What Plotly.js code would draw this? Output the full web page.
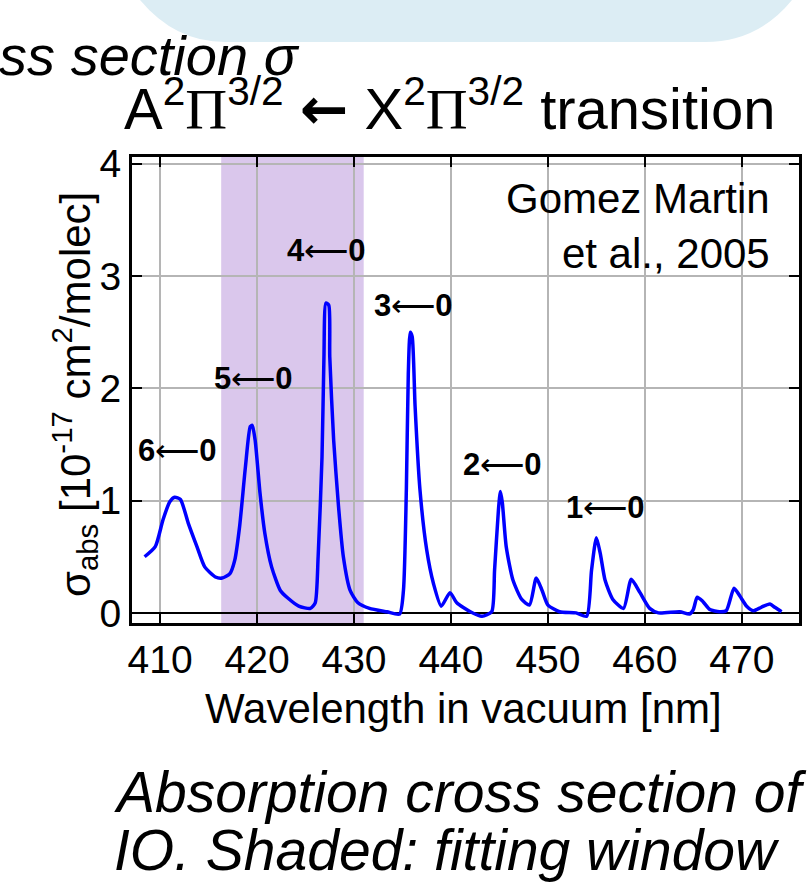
<!DOCTYPE html>
<html>
<head>
<meta charset="utf-8">
<script src="https://cdn.plot.ly/plotly-3.0.1.min.js"></script>
<style>
html,body{margin:0;padding:0;background:#fff;}
#chart{width:810px;height:883px;}
</style>
</head>
<body>
<div id="chart"></div>
<script>
// Wavelength in vacuum [nm]
const wavelength = [
 408.4,409.5,410.3,411.0,411.5,412.1,412.9,413.8,414.6,415.7,
 416.4,417.2,417.7,418.2,418.8,419.3,419.5,419.8,420.3,420.8,
 421.5,422.4,423.2,424.3,425.5,426.0,426.3,426.7,426.9,427.1,
 427.4,427.5,427.9,428.4,428.9,429.6,430.4,431.6,433.4,434.7,
 435.1,435.4,435.6,435.8,436.0,436.3,436.8,437.5,438.2,439.0,
 439.9,440.6,442.0,443.2,444.2,444.5,444.9,445.1,445.3,445.7,
 446.4,447.3,448.1,448.8,449.4,450.0,451.2,452.9,454.0,454.5,
 455.0,455.4,455.9,456.7,457.8,458.6,459.5,460.5,461.4,463.6,
 464.6,465.0,465.4,466.0,466.7,467.7,468.4,469.2,469.8,470.5,
 471.2,472.0,472.9,473.4,474.1
];
// Absorption cross section [1e-17 cm2/molec]
const sigma = [
 0.50,0.59,0.83,0.99,1.03,1.01,0.80,0.59,0.41,0.32,
 0.31,0.35,0.47,0.77,1.30,1.66,1.67,1.54,1.07,0.71,
 0.41,0.20,0.13,0.06,0.04,0.09,0.50,1.39,2.28,2.76,
 2.74,2.28,1.54,0.95,0.50,0.20,0.09,0.04,0.01,-0.01,
 0.20,1.10,2.13,2.50,2.46,1.84,1.10,0.56,0.26,0.06,
 0.18,0.09,0.01,-0.03,0.01,0.38,0.92,1.08,0.98,0.59,
 0.29,0.12,0.07,0.31,0.20,0.07,0.01,0.00,-0.03,0.38,
 0.67,0.53,0.29,0.12,0.04,0.30,0.18,0.04,0.00,0.01,
 -0.01,0.03,0.14,0.10,0.03,0.01,0.02,0.22,0.15,0.06,
 0.02,0.05,0.08,0.05,0.01
];
// Band labels (v' <- 0)
const bandLabels = ["6","5","4","3","2","1"];
const bandLabelX = [411.8, 419.6, 427.2, 436.1, 445.3, 455.9];
const bandLabelY = [1.45, 2.09, 3.23, 2.74, 1.32, 0.94];
// Fitting window [nm]
const fitWindow = [416.3, 431.0];
const xTicks = [410,420,430,440,450,460,470];
const yTicks = [0,1,2,3,4];

const FONT = "'Liberation Sans', Arial, Helvetica, sans-serif";

// page geometry helpers (pixels -> paper)
const L = 132, T = 157, W = 667, H = 466;
const px = x => (x - L) / W;
const py = y => (T + H - y) / H;

const annotations = [];
bandLabels.forEach((b, i) => {
  annotations.push({
    x: bandLabelX[i], y: bandLabelY[i], xref: 'x', yref: 'y',
    text: '<b>' + b + '</b>⟵<b>0</b>', showarrow: false,
    font: {family: FONT, size: 31, color: '#000'},
    xanchor: 'center', yanchor: 'middle'
  });
});
annotations.push({
  x: px(772), y: py(226), xref: 'paper', yref: 'paper',
  text: 'Gomez Martin<br>et al., 2005', align: 'right', showarrow: false,
  xanchor: 'right', yanchor: 'middle',
  font: {family: FONT, size: 42, color: '#000'}
});
const PI = "<span style=\"font-family:'Liberation Serif'\">Π</span>";
annotations.push({
  x: px(449), y: py(106), xref: 'paper', yref: 'paper',
  text: "A<sup>2</sup>" + PI + "<sup>3/2</sup> <span style=\"font-family:'DejaVu Sans';font-weight:bold\">←</span> X<sup>2</sup>" + PI + "<sup>3/2</sup> transition",
  showarrow: false, xanchor: 'center', yanchor: 'middle',
  font: {family: FONT, size: 58, color: '#000'}
});
annotations.push({
  x: px(302), y: py(56), xref: 'paper', yref: 'paper',
  text: 'Absorption cross section σ', showarrow: false,
  xanchor: 'right', yanchor: 'middle',
  font: {family: FONT, size: 56, color: '#000', style: 'italic'}
});
annotations.push({
  x: px(112), y: py(792), xref: 'paper', yref: 'paper',
  text: 'Absorption cross section of', showarrow: false,
  xanchor: 'left', yanchor: 'middle',
  font: {family: FONT, size: 57, color: '#000', style: 'italic'}
});
annotations.push({
  x: px(112), y: py(850), xref: 'paper', yref: 'paper',
  text: 'IO. Shaded: fitting window', showarrow: false,
  xanchor: 'left', yanchor: 'middle',
  font: {family: FONT, size: 57, color: '#000', style: 'italic'}
});
annotations.push({
  x: px(74), y: py(395), xref: 'paper', yref: 'paper', textangle: -90,
  text: 'σ<sub>abs</sub> [10<sup>-17</sup> cm<sup>2</sup>/molec]', showarrow: false,
  xanchor: 'center', yanchor: 'middle',
  font: {family: FONT, size: 42, color: '#000'}
});
annotations.push({
  x: px(463), y: py(708), xref: 'paper', yref: 'paper',
  text: 'Wavelength in vacuum [nm]', showarrow: false,
  xanchor: 'center', yanchor: 'middle',
  font: {family: FONT, size: 42, color: '#000'}
});

// rounded light-blue box at the top of the slide (pixel path -> paper)
function P(x, y){ return px(x).toFixed(4) + ',' + py(y).toFixed(4); }
const boxPath = 'M ' + P(126,-20) + ' L ' + P(140,0) + ' Q ' + P(175,42) + ' ' + P(225,42) +
  ' L ' + P(705,42) + ' Q ' + P(758,42) + ' ' + P(792,0) + ' L ' + P(800,-20) + ' Z';

const shapes = [
  {type:'rect', xref:'x', yref:'paper', x0: fitWindow[0], x1: fitWindow[1], y0: 0, y1: 1,
   fillcolor:'#dac7ec', line:{width:0}, layer:'below'},
  {type:'path', xref:'paper', yref:'paper', path: boxPath,
   fillcolor:'#dcedf4', line:{width:0}, layer:'above'}
];

const trace = {
  x: wavelength, y: sigma, type: 'scatter', mode: 'lines',
  line: {color: '#0000ff', width: 3.5, shape: 'spline', smoothing: 0.6}, hoverinfo: 'skip'
};

const layout = {
  width: 810, height: 883,
  margin: {l: L, r: 810 - L - W, t: T, b: 883 - T - H, pad: 0},
  paper_bgcolor: '#fff', plot_bgcolor: '#fff',
  showlegend: false,
  font: {family: FONT, color: '#000'},
  xaxis: {
    range: [407.1, 475.9], tickvals: xTicks, ticktext: xTicks.map(String),
    ticks: 'inside', ticklen: 10, tickwidth: 2, tickcolor: '#000',
    showline: true, linewidth: 3, linecolor: '#000', mirror: 'ticks',
    showgrid: true, gridcolor: '#b5b5b5', gridwidth: 2, zeroline: false,
    tickfont: {family: FONT, size: 39, color: '#000'}, fixedrange: true
  },
  yaxis: {
    range: [-0.09, 4.06], tickvals: yTicks, ticktext: yTicks.map(String),
    ticks: 'inside', ticklen: 10, tickwidth: 2, tickcolor: '#000',
    showline: true, linewidth: 3, linecolor: '#000', mirror: 'ticks',
    showgrid: true, gridcolor: '#b5b5b5', gridwidth: 2,
    zeroline: true, zerolinecolor: '#000', zerolinewidth: 2,
    tickfont: {family: FONT, size: 39, color: '#000'}, fixedrange: true
  },
  shapes: shapes,
  annotations: annotations
};

Plotly.newPlot('chart', [trace], layout, {staticPlot: true, displayModeBar: false});
</script>
</body>
</html>
